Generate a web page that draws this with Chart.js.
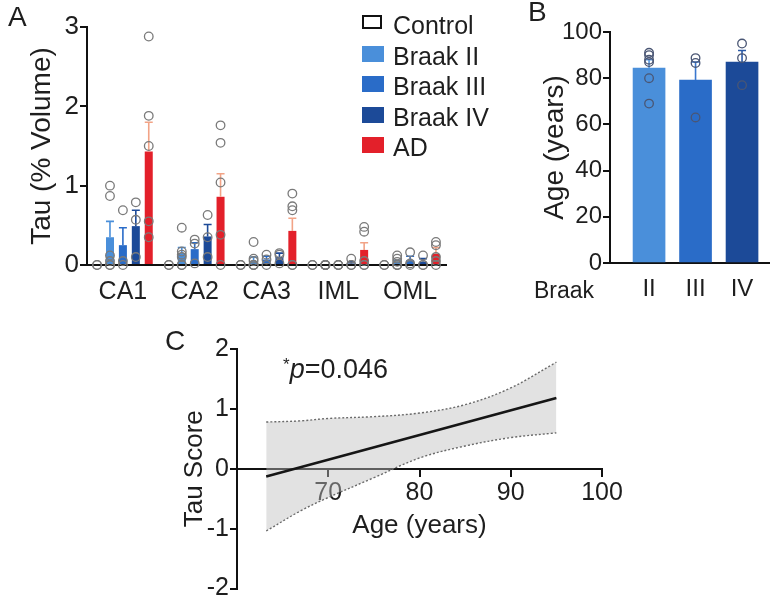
<!DOCTYPE html>
<html>
<head>
<meta charset="utf-8">
<script src="https://cdn.jsdelivr.net/npm/chart.js@4"></script>
<style>
  body { margin: 0; width: 780px; height: 602px; overflow: hidden; position: relative; background: #fff;
         font-family: "Liberation Sans", Arial, sans-serif; color: #1e1e1e; }
  canvas { position: absolute; }
  .txt { position: absolute; white-space: nowrap; line-height: 1; }
  .panel { font-size: 28px; }
  .leg { position: absolute; left: 362px; font-size: 25px; line-height: 1; }
  .leg div { position: absolute; white-space: nowrap; height: 30px; }
  .leg span.sw { position: absolute; left: 0; width: 22px; height: 16px; box-sizing: border-box; }
  .leg span.tx { position: absolute; left: 31px; }
</style>
</head>
<body>
<canvas id="chartA" width="470" height="300" style="left:0;top:0"></canvas>
<canvas id="chartB" width="280" height="300" style="left:500px;top:0"></canvas>
<canvas id="chartC" width="480" height="302" style="left:150px;top:300px"></canvas>

<div class="txt panel" style="left:8px;top:3px">A</div>
<div class="txt panel" style="left:528px;top:-2px">B</div>
<div class="txt panel" style="left:165px;top:327px">C</div>
<div class="leg" id="legendA"></div>
<div class="txt" style="left:534px;top:279px;font-size:23px">Braak</div>
<div class="txt" style="left:283px;top:356px;font-size:27px"><span style="font-size:17px;vertical-align:top">*</span><i>p</i>=0.046</div>

<script>
// panel A: tau load per hippocampal region
const regions = ['CA1', 'CA2', 'CA3', 'IML', 'OML'];
const groups = ['Control', 'Braak II', 'Braak III', 'Braak IV', 'AD'];

const controlMean = [0, 0, 0, 0, 0];
const braak2Mean = [0.35, 0.15, 0.05, 0, 0.04];
const braak3Mean = [0.25, 0.20, 0.07, 0, 0.06];
const braak4Mean = [0.49, 0.36, 0.10, 0.02, 0.04];
const adMean = [1.43, 0.86, 0.43, 0.19, 0.14];

const controlSem = [0, 0, 0, 0, 0];
const braak2Sem = [0.20, 0.07, 0.05, 0, 0.02];
const braak3Sem = [0.22, 0.08, 0.04, 0, 0.05];
const braak4Sem = [0.20, 0.15, 0.05, 0.02, 0.04];
const adSem = [0.37, 0.29, 0.16, 0.09, 0.08];

const controlPts = [[0, 0], [0, 0], [0, 0], [0, 0], [0, 0]];
const braak2Pts = [[1.0, 0.87, 0.12, 0.05, 0, 0], [0.47, 0.17, 0.13, 0.1, 0, 0], [0.29, 0.08, 0.05, 0, 0, 0], [0, 0, 0, 0, 0, 0], [0.12, 0.08, 0.04, 0, 0, 0]];
const braak3Pts = [[0.69, 0.05, 0], [0.32, 0.27, 0.02], [0.13, 0.07, 0], [0, 0, 0], [0.16, 0.02, 0]];
const braak4Pts = [[0.79, 0.57, 0.1], [0.63, 0.35, 0.1], [0.15, 0.13, 0.02], [0.08, 0, 0], [0.12, 0, 0]];
const adPts = [[2.88, 1.88, 1.5, 0.55, 0.35], [1.76, 1.54, 1.04, 0.38, 0], [0.9, 0.74, 0.69, 0, 0], [0.48, 0.42, 0.05, 0, 0], [0.29, 0.25, 0.1, 0.05, 0]];

// panel B: age per Braak stage
const braakStages = ['II', 'III', 'IV'];
const ageMean = [84.4, 79.2, 87.0];
const ageSem = [3.6, 7.8, 5.0];
const agePts = [[88, 90, 91, 87, 80, 69], [88.7, 86.6, 63], [95, 88.7, 77]];

// panel C: regression of tau score on age
const fitAge = [63.2, 95];
const fitScore = [-0.13, 1.18];
const bandAge = [63.2, 67, 70, 75, 80, 85, 90, 95];
const bandUpper = [0.78, 0.80, 0.84, 0.87, 0.93, 1.07, 1.35, 1.78];
const bandLower = [-1.04, -0.70, -0.48, -0.15, 0.18, 0.38, 0.52, 0.60];

const groupColors = ['#ffffff', '#4a8fda', '#2a6cc8', '#1c4a98', '#e3202a'];
const groupErrColors = ['#000000', '#4a8fda', '#2a6cc8', '#1c4a98', '#f2a386'];
const stageColors = ['#4a8fda', '#2a6cc8', '#1c4a98'];
const stageErrColors = ['#5d9be0', '#3a78cf', '#2a5aa8'];

Chart.defaults.font.family = '"Liberation Sans", Arial, sans-serif';
Chart.defaults.color = '#1e1e1e';

// error bars and individual points, placed on each bar through the scales
function dotsPlugin(means, sems, pts, errColor, dotColor) {
  return {
    id: 'dots',
    afterDatasetsDraw(chart) {
      const ctx = chart.ctx;
      const y = chart.scales.y;
      ctx.save();
      means.forEach((m, d) => {
        const meta = chart.getDatasetMeta(d);
        meta.data.forEach((bar, i) => {
          const x = bar.x;
          if (sems[d][i] > 0) {
            const top = y.getPixelForValue(m[i] + sems[d][i]);
            ctx.strokeStyle = errColor(d, i);
            ctx.lineWidth = 1.6;
            ctx.beginPath();
            ctx.moveTo(x, y.getPixelForValue(m[i]));
            ctx.lineTo(x, top);
            ctx.moveTo(x - 4, top);
            ctx.lineTo(x + 4, top);
            ctx.stroke();
          }
          pts[d][i].forEach(v => {
            ctx.strokeStyle = dotColor;
            ctx.lineWidth = 1.3;
            ctx.beginPath();
            ctx.arc(x, y.getPixelForValue(v), 4.3, 0, Math.PI * 2);
            ctx.stroke();
          });
        });
      });
      ctx.restore();
    }
  };
}

const axisLine = { color: '#111', width: 2 };

// ---- panel A
const meansA = [controlMean, braak2Mean, braak3Mean, braak4Mean, adMean];
const semsA = [controlSem, braak2Sem, braak3Sem, braak4Sem, adSem];
const ptsA = [controlPts, braak2Pts, braak3Pts, braak4Pts, adPts];

new Chart(document.getElementById('chartA'), {
  type: 'bar',
  data: {
    labels: regions,
    datasets: groups.map((g, k) => ({
      label: g,
      data: meansA[k],
      backgroundColor: groupColors[k],
      borderWidth: 0,
      categoryPercentage: 0.9,
      barPercentage: 0.62
    }))
  },
  options: {
    responsive: false,
    animation: false,
    layout: { padding: { left: 0, right: 24, top: 27, bottom: 0 } },
    plugins: { legend: { display: false }, tooltip: { enabled: false } },
    scales: {
      x: {
        grid: { display: false },
        border: axisLine,
        ticks: { font: { size: 25 }, padding: 4 },
        afterFit(s) { s.height = 35; }
      },
      y: {
        min: 0, max: 3,
        ticks: { stepSize: 1, font: { size: 26, lineHeight: 1 }, padding: 1 },
        grid: { drawOnChartArea: false, tickLength: 7, color: '#111', lineWidth: 2 },
        border: axisLine,
        title: { display: true, text: 'Tau (% Volume)', font: { size: 28 }, padding: { top: 25, bottom: 0 } },
        afterFit(s) { s.width = 87; }
      }
    }
  },
  plugins: [dotsPlugin(meansA, semsA, ptsA, (d) => groupErrColors[d], '#7a7a7a')]
});

// legend for panel A
const leg = document.getElementById('legendA');
groups.forEach((g, k) => {
  const row = document.createElement('div');
  row.style.top = (13 + k * 30.5) + 'px';
  const sw = document.createElement('span');
  sw.className = 'sw';
  if (k === 0) {
    sw.style.border = '2.5px solid #111';
    sw.style.width = '20px';
    sw.style.height = '14px';
    sw.style.top = '2px';
  } else {
    sw.style.background = groupColors[k];
    sw.style.top = '2px';
  }
  const tx = document.createElement('span');
  tx.className = 'tx';
  tx.textContent = g;
  row.appendChild(sw);
  row.appendChild(tx);
  leg.appendChild(row);
});

// ---- panel B
new Chart(document.getElementById('chartB'), {
  type: 'bar',
  data: {
    datasets: [{
      label: 'Age',
      data: braakStages.map((s, i) => ({ x: i + 1, y: ageMean[i] })),
      backgroundColor: stageColors,
      borderWidth: 0,
      barThickness: 32
    }]
  },
  options: {
    responsive: false,
    animation: false,
    layout: { padding: { left: 0, right: 11, top: 32, bottom: 0 } },
    plugins: { legend: { display: false }, tooltip: { enabled: false } },
    scales: {
      x: {
        type: 'linear', min: 0.16, max: 3.58, offset: false,
        afterBuildTicks(s) { s.ticks = braakStages.map((_, i) => ({ value: i + 1 })); },
        ticks: { font: { size: 24 }, padding: 4, callback: (v) => braakStages[v - 1] },
        grid: { display: false, offset: false },
        border: axisLine,
        afterFit(s) { s.height = 37; }
      },
      y: {
        min: 0, max: 100,
        ticks: { stepSize: 20, font: { size: 24, lineHeight: 1 }, padding: 1 },
        grid: { drawOnChartArea: false, tickLength: 7, color: '#111', lineWidth: 2 },
        border: axisLine,
        title: { display: true, text: 'Age (years)', font: { size: 28 }, padding: { top: 38, bottom: 0 } },
        afterFit(s) { s.width = 110; }
      }
    }
  },
  plugins: [dotsPlugin([ageMean], [ageSem], [agePts], (d, i) => stageErrColors[i], '#4a5674')]
});

// ---- panel C
new Chart(document.getElementById('chartC'), {
  type: 'line',
  data: {
    datasets: [
      {
        label: 'fit',
        data: fitAge.map((a, i) => ({ x: a, y: fitScore[i] })),
        borderColor: '#161616', borderWidth: 2.6, pointRadius: 0, fill: false
      },
      {
        label: 'upper',
        data: bandAge.map((a, i) => ({ x: a, y: bandUpper[i] })),
        borderColor: '#6a6a6a', borderWidth: 1.4, borderDash: [2, 2], pointRadius: 0,
        tension: 0.35, fill: false
      },
      {
        label: 'lower',
        data: bandAge.map((a, i) => ({ x: a, y: bandLower[i] })),
        borderColor: '#6a6a6a', borderWidth: 1.4, borderDash: [2, 2], pointRadius: 0,
        tension: 0.35, fill: '-1', backgroundColor: 'rgba(190,190,190,0.45)'
      }
    ]
  },
  options: {
    responsive: false,
    animation: false,
    layout: { padding: { left: 0, right: 28, top: 49, bottom: 12 } },
    plugins: { legend: { display: false }, tooltip: { enabled: false } },
    scales: {
      x: {
        type: 'linear', min: 60, max: 100,
        position: { y: 0 },
        afterBuildTicks(s) { s.ticks = [70, 80, 90, 100].map(v => ({ value: v })); },
        ticks: { font: { size: 25 }, padding: 2 },
        grid: { drawOnChartArea: false, tickLength: 7, color: '#111', lineWidth: 2 },
        border: axisLine,
        title: { display: true, text: 'Age (years)', font: { size: 26 }, padding: { top: 0, bottom: 0 } }
      },
      y: {
        min: -2, max: 2,
        ticks: { stepSize: 1, font: { size: 25, lineHeight: 1 }, padding: 1 },
        grid: { drawOnChartArea: false, tickLength: 7, color: '#111', lineWidth: 2 },
        border: axisLine,
        title: { display: true, text: 'Tau Score', font: { size: 26 }, padding: { top: 29, bottom: 0 } },
        afterFit(s) { s.width = 87; }
      }
    }
  }
});
</script>
</body>
</html>
